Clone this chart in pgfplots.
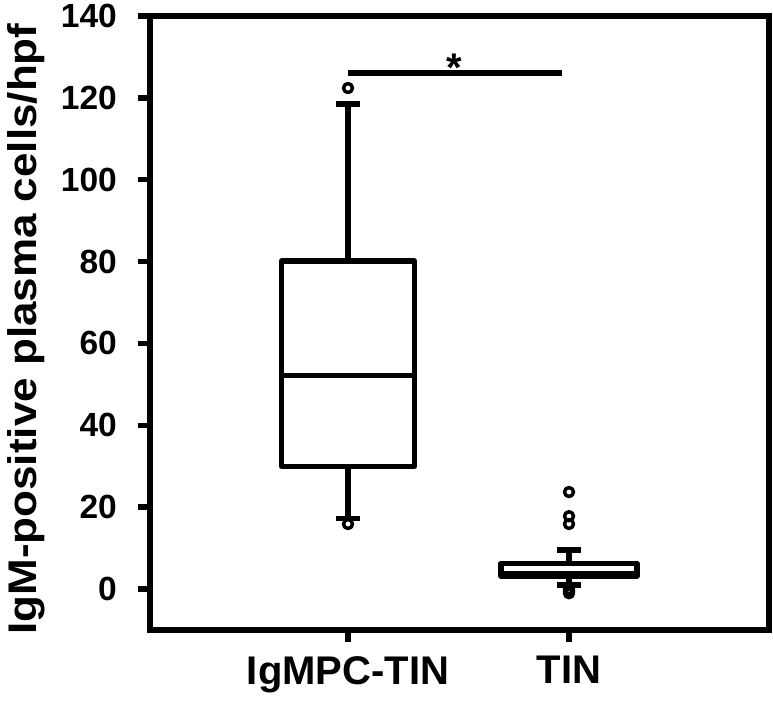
\documentclass[border=0pt]{standalone}
\usepackage{fontspec}
\setmainfont{Liberation Sans}
\usepackage{pgfplots}
\pgfplotsset{compat=1.18}
\usepgfplotslibrary{statistics}
\begin{document}
\begin{tikzpicture}
\begin{axis}[
  at={(0,0)}, anchor=south west,
  scale only axis, width=619pt, height=614pt,
  xmin=0.104, xmax=2.905, ymin=-10, ymax=140,
  clip=false,
  axis line style={line width=5.5pt, line join=miter},
  tick pos=left, tick align=outside,
  major tick length=12pt,
  tick style={line width=5.5pt, black},
  xtick={1,2}, xticklabels={IgMPC-TIN,TIN},
  ytick={0,20,...,140},
  /pgf/number format/assume math mode=true,
  yticklabel style={font=\fontsize{33.5}{36}\selectfont\bfseries, anchor=east, inner sep=0pt, xshift=-21pt},
  xticklabel style={font=\fontsize{40}{44}\selectfont\bfseries, anchor=north, inner sep=0pt, yshift=-14pt},
  ylabel={\scalebox{1.1}[1]{IgM-positive plasma cells/hpf}},
  ylabel style={font=\fontsize{40}{44}\selectfont\bfseries, at={(axis description cs:-0.2,0.49)}, anchor=center, inner sep=0pt},
  boxplot/draw direction=y,
]
\addplot[black, line width=5.5pt, line join=round, mark=o, mark size=4.5pt,
  mark options={line width=3.5pt, solid, fill=white},
  boxplot prepared={lower whisker=17.3, lower quartile=30, median=52.2,
    upper quartile=80.1, upper whisker=118.5, draw position=1,
    box extend=0.6, whisker extend=0.11}]
  coordinates {(0,122.4) (0,15.9)};
\addplot[black, line width=5.5pt, line join=round, mark=o, mark size=4.5pt,
  mark options={line width=3.5pt, solid},
  boxplot prepared={lower whisker=1.0, lower quartile=3.2, median=3.8,
    upper quartile=6.3, upper whisker=9.5, draw position=2,
    box extend=0.615, whisker extend=0.11}]
  coordinates {(0,23.7) (0,17.8) (0,15.9) (0,0.0) (0,-0.5) (0,-1.0)};
\addplot[black, line width=5.5pt, mark=none] coordinates {(1,126.1) (1.968,126.1)};
\node[font=\fontsize{40}{44}\selectfont\bfseries, anchor=base] at (axis cs:1.48,124.1) {*};
\end{axis}
\pgfresetboundingbox
\useasboundingbox (-150pt,-76pt) rectangle (623pt,630pt);
\end{tikzpicture}
\end{document}
